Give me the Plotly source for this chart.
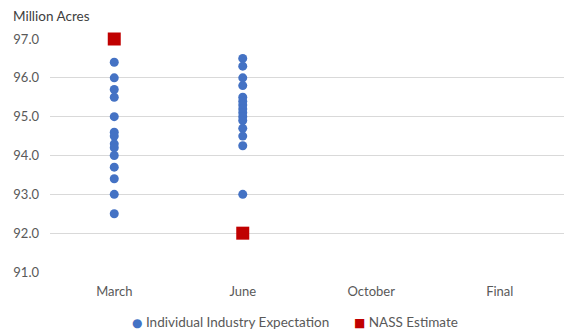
import plotly.graph_objects as go

categories = ["March", "June", "October", "Final"]
march_expect = [96.4, 96.0, 95.7, 95.5, 95.0, 94.6, 94.5, 94.3, 94.2, 94.0, 93.7, 93.4, 93.0, 92.5]
june_expect = [96.5, 96.3, 96.0, 95.8, 95.5, 95.4, 95.3, 95.2, 95.1, 95.0, 94.9, 94.7, 94.5, 94.25, 93.0]
nass_months = ["March", "June"]
nass_values = [97.0, 92.0]
y_ticks = [91.0, 92.0, 93.0, 94.0, 95.0, 96.0, 97.0]
series_names = ["Individual Industry Expectation", "NASS Estimate"]
series_colors = ["#4472C4", "#C00000"]

FONT = "Lato, Open Sans, sans-serif"
GRAY = "#595959"

exp_x = ["March"] * len(march_expect) + ["June"] * len(june_expect)
exp_y = march_expect + june_expect

fig = go.Figure()
fig.add_trace(go.Scatter(
    x=exp_x, y=exp_y, mode="markers", name=series_names[0],
    marker=dict(color=series_colors[0], size=9, symbol="circle"),
    cliponaxis=False,
))
fig.add_trace(go.Scatter(
    x=nass_months, y=nass_values, mode="markers", name=series_names[1],
    marker=dict(color=series_colors[1], size=13, symbol="square"),
    cliponaxis=False,
))

legend_ann = [
    dict(text=f"<span style='color:{series_colors[0]};font-family:DejaVu Sans;font-size:12px'>●</span> {series_names[0]}",
         x=(130 - 50) / 514, y=0, yshift=-50),
    dict(text=f"<span style='color:{series_colors[1]};font-family:DejaVu Sans;font-size:12px'>■</span> {series_names[1]}",
         x=(352 - 50) / 514, y=0, yshift=-50),
]
annotations = []
for a in legend_ann:
    annotations.append(dict(text=a["text"], xref="paper", yref="paper", x=a["x"], y=a["y"],
                            yshift=a["yshift"], xanchor="left", yanchor="middle", showarrow=False,
                            font=dict(size=13.5, color=GRAY, family=FONT)))
annotations.append(dict(text="Million Acres", xref="paper", yref="paper",
                        x=0, xshift=-39, y=1, yshift=23, xanchor="left", yanchor="middle",
                        showarrow=False, font=dict(size=13.5, color="#404040", family=FONT)))

fig.update_layout(
    width=564, height=330,
    margin=dict(l=50, r=0, t=39, b=58, autoexpand=False),
    paper_bgcolor="white", plot_bgcolor="white",
    font=dict(family=FONT, color=GRAY, size=13),
    showlegend=False,
    xaxis=dict(type="category", categoryorder="array", categoryarray=categories,
               range=[-0.5, 3.5], showgrid=False, zeroline=False,
               showline=False, ticks="", ticklabelstandoff=10,
               tickfont=dict(size=13, color=GRAY, family=FONT)),
    yaxis=dict(range=[91, 97], tickvals=y_ticks, tickformat=".1f",
               showgrid=True, gridcolor="#D9D9D9", gridwidth=1,
               zeroline=False, showline=False, ticks="", ticklabelstandoff=10,
               tickfont=dict(size=13, color=GRAY, family=FONT)),
    annotations=annotations,
)

fig.write_html("out.html")
